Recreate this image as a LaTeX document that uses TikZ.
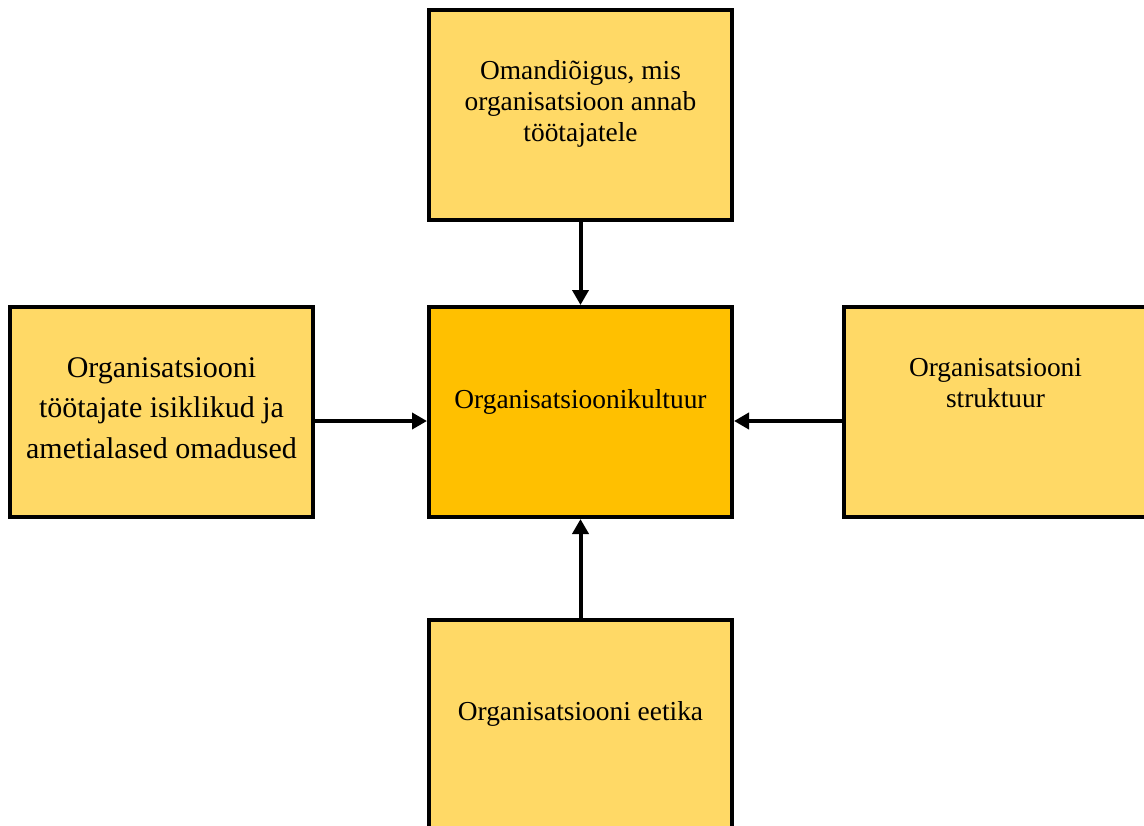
\documentclass[tikz,border=0pt]{standalone}
\usepackage{fontspec}
\setmainfont{Liberation Serif}
\usetikzlibrary{arrows.meta,positioning}
\definecolor{lightgold}{HTML}{FFD966}
\definecolor{gold}{HTML}{FFC000}

\begin{document}
\begin{tikzpicture}[x=0.5pt, y=-0.5pt, > = {Triangle[length=7.5pt,width=8pt]}]
    % Stiilid
    \tikzstyle{box}=[rectangle, draw, line width=2pt, fill=lightgold, minimum width=151.5pt, minimum height=105pt, inner sep=0pt]
    \tikzstyle{txt}=[align=center, font=\fontsize{13.7}{15.5}\selectfont]
    \tikzstyle{arrow}=[->, line width=2pt]

    \useasboundingbox (0,0) rectangle (1144,825);
    \clip (0,0) rectangle (1144,825);

    % Kastid
    \node[box] (omand) at (580.5,114.5) {};
    \node[box, fill=gold] (kultuur) at (580.5,412) {};
    \node[box] (tootajad) at (161.5,412) {};
    \node[box] (struktuur) at (995.5,412) {};
    \node[box] (eetika) at (580.5,725) {};

    % Tekstid
    \node[txt] (omand-t) at (580.5,104) {Omandiõigus, mis\\organisatsioon annab\\töötajatele};
    \node[txt] (kultuur-t) at (580.5,402) {Organisatsioonikultuur};
    \node[txt, font=\fontsize{15}{20.3}\selectfont] (tootajad-t) at (161.5,408) {Organisatsiooni\\töötajate isiklikud ja\\ametialased omadused};
    \node[txt] (struktuur-t) at (995.5,383) {Organisatsiooni\\struktuur};
    \node[txt] (eetika-t) at (580.5,714) {Organisatsiooni eetika};

    % Nooled
    \draw[arrow] (omand) -- (kultuur);
    \draw[arrow] (eetika) -- (kultuur);
    \draw[arrow] ([yshift=-4.5pt]tootajad.east) -- ([yshift=-4.5pt]kultuur.west);
    \draw[arrow] ([yshift=-4.5pt]struktuur.west) -- ([yshift=-4.5pt]kultuur.east);
\end{tikzpicture}
\end{document}
